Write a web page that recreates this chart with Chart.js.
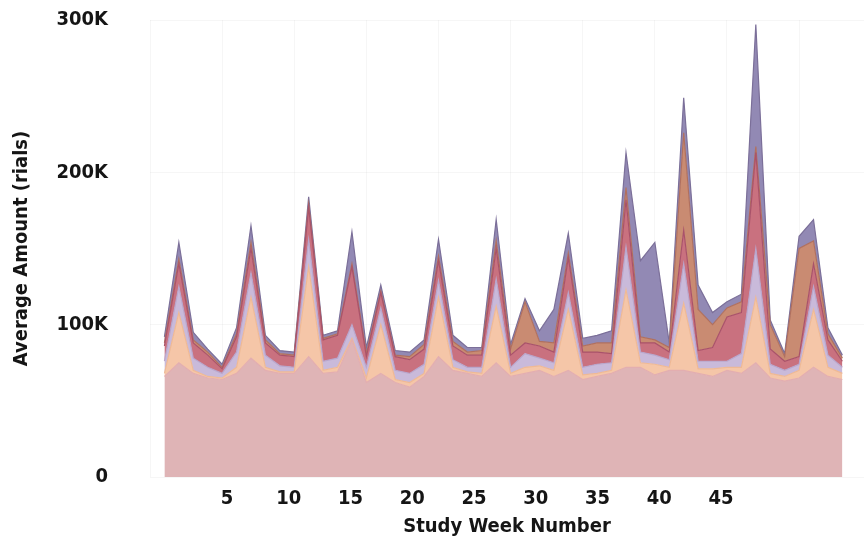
<!DOCTYPE html>
<html>
<head>
<meta charset="utf-8">
<script src="https://cdn.jsdelivr.net/npm/chart.js@4.4.1/dist/chart.umd.min.js"></script>
<style>
	html, body { margin: 0; padding: 0; background: #fff; }
	#wrap { width: 867px; height: 545px; }
</style>
</head>
<body>
<div id="wrap"><canvas id="weekly"></canvas></div>
<script>
// study weeks (x) and the average amount per group, in thousands of rials
var weeks = [1, 2, 3, 4, 5, 6, 7, 8, 9, 10, 11, 12, 13, 14, 15, 16, 17, 18, 19, 20, 21, 22, 23, 24,
	25, 26, 27, 28, 29, 30, 31, 32, 33, 34, 35, 36, 37, 38, 39, 40, 41, 42, 43, 44, 45, 46, 47, 48];

var groupA = [66, 75, 68, 65, 64, 68, 78, 70, 68, 68, 79, 68, 69, 90, 62, 68, 62, 59, 66, 79, 70, 68, 66, 75,
	66, 68, 70, 66, 70, 64, 66, 68, 72, 72, 67, 70, 70, 68, 66, 70, 68, 75, 65, 63, 65, 72, 66, 64];
var groupB = [2, 33, 2, 1, 1, 4, 40, 2, 1, 1, 59, 2, 3, 1, 3, 32, 2, 3, 2, 39, 2, 1, 2, 37,
	2, 4, 3, 4, 40, 3, 2, 2, 51, 3, 7, 2, 44, 3, 5, 2, 4, 43, 3, 3, 5, 38, 6, 4];
var groupC = [8, 17, 8, 6, 3, 10, 16, 8, 4, 3, 18, 6, 6, 9, 7, 11, 6, 6, 6, 11, 5, 3, 4, 18,
	4, 9, 5, 5, 11, 5, 6, 5, 28, 7, 6, 5, 26, 5, 5, 4, 9, 32, 6, 4, 4, 15, 8, 4];
var groupD = [10, 15, 10, 8, 3, 10, 16, 8, 7, 7, 21, 14, 15, 38, 7, 10, 9, 9, 10, 13, 9, 8, 8, 20,
	8, 7, 8, 7, 23, 10, 8, 6, 31, 6, 8, 5, 22, 7, 9, 29, 27, 63, 10, 6, 5, 15, 10, 4];
var groupE = [2, 3, 2, 2, 1, 2, 4, 2, 1, 1, 2, 1, 1, 2, 2, 1, 1, 2, 3, 3, 3, 2, 3, 5,
	4, 27, 3, 6, 3, 4, 6, 7, 8, 4, 2, 3, 64, 27, 15, 6, 7, 4, 16, 3, 71, 15, 4, 2];
var groupF = [4, 11, 5, 2, 2, 4, 11, 3, 2, 2, 5, 2, 2, 21, 4, 4, 3, 3, 3, 11, 4, 3, 2, 14,
	3, 2, 7, 22, 13, 5, 5, 8, 23, 50, 64, 3, 23, 16, 8, 4, 5, 80, 3, 2, 8, 14, 4, 2];

var gridWeeks = [0, 5, 10, 15, 20, 25, 30, 35, 40, 45];
var tickLabels = [5, 10, 15, 20, 25, 30, 35, 40, 45];
var yTicks = [0, 100, 200, 300];

var fontFamily = "'DejaVu Sans Condensed', 'Liberation Sans Narrow', 'DejaVu Sans', sans-serif";

function points(values) {
	return weeks.map(function (w, i) { return { x: w, y: values[i] }; });
}

function layer(values, fillColor, lineColor, fill) {
	return {
		data: points(values),
		backgroundColor: fillColor,
		borderColor: lineColor,
		borderWidth: 1.2,
		pointRadius: 0,
		tension: 0,
		fill: fill
	};
}

function start() {
	var ctx = document.getElementById('weekly').getContext('2d');
	var weekly = new Chart(ctx, {
		type: 'line',
		data: {
			datasets: [
				layer(groupA, '#dfb4b6', '#e3aeb0', 'origin'),
				layer(groupB, '#f5c6a8', '#efb995', '-1'),
				layer(groupC, '#c9bada', '#b9a6cc', '-1'),
				layer(groupD, '#c9717f', '#a9526a', '-1'),
				layer(groupE, '#c98b72', '#b0705f', '-1'),
				layer(groupF, '#9289b4', '#7b6f99', '-1')
			]
		},
		options: {
			responsive: true,
			maintainAspectRatio: false,
			animation: false,
			layout: { padding: { top: 20, right: 3, bottom: 0, left: 0 } },
			plugins: {
				legend: { display: false },
				tooltip: { enabled: false }
			},
			scales: {
				x: {
					type: 'linear',
					position: 'bottom',
					min: 0,
					max: 49.5,
					afterBuildTicks: function (scale) {
						scale.ticks = gridWeeks.map(function (v) { return { value: v }; });
					},
					afterFit: function (scale) { scale.height = 0; },
					ticks: { display: false },
					grid: { color: 'rgba(0,0,0,0.035)', drawTicks: false },
					border: { display: false }
				},
				x2: {
					type: 'linear',
					position: 'bottom',
					min: -1.235,
					max: 56.58,
					afterBuildTicks: function (scale) {
						scale.ticks = tickLabels.map(function (v) { return { value: v }; });
					},
					afterFit: function (scale) { scale.height = 68; },
					ticks: {
						color: '#151515',
						padding: 2,
						maxRotation: 0,
						font: { family: fontFamily, size: 20, weight: 'bold' }
					},
					grid: { display: false },
					border: { display: false },
					title: {
						display: true,
						text: 'Study Week Number',
						color: '#151515',
						padding: { top: 0, bottom: 6 },
						font: { family: fontFamily, size: 20, weight: 'bold' }
					}
				},
				y: {
					stacked: true,
					min: 0,
					max: 300,
					afterBuildTicks: function (scale) {
						scale.ticks = yTicks.map(function (v) { return { value: v }; });
					},
					afterFit: function (scale) {
						scale.width = 150;
						scale.paddingTop = 12;
						scale.paddingBottom = 12;
					},
					ticks: {
						color: '#151515',
						padding: 42,
						font: { family: fontFamily, size: 20, weight: 'bold' },
						callback: function (v) { return v === 0 ? '0' : v + 'K'; }
					},
					grid: { color: 'rgba(0,0,0,0.035)', drawTicks: false },
					border: { display: false },
					title: {
						display: true,
						text: 'Average Amount (rials)',
						color: '#151515',
						padding: { top: 10, bottom: 0 },
						font: { family: fontFamily, size: 20, weight: 'bold' }
					}
				}
			}
		}
	});
}

window.onload = start;
</script>
</body>
</html>
